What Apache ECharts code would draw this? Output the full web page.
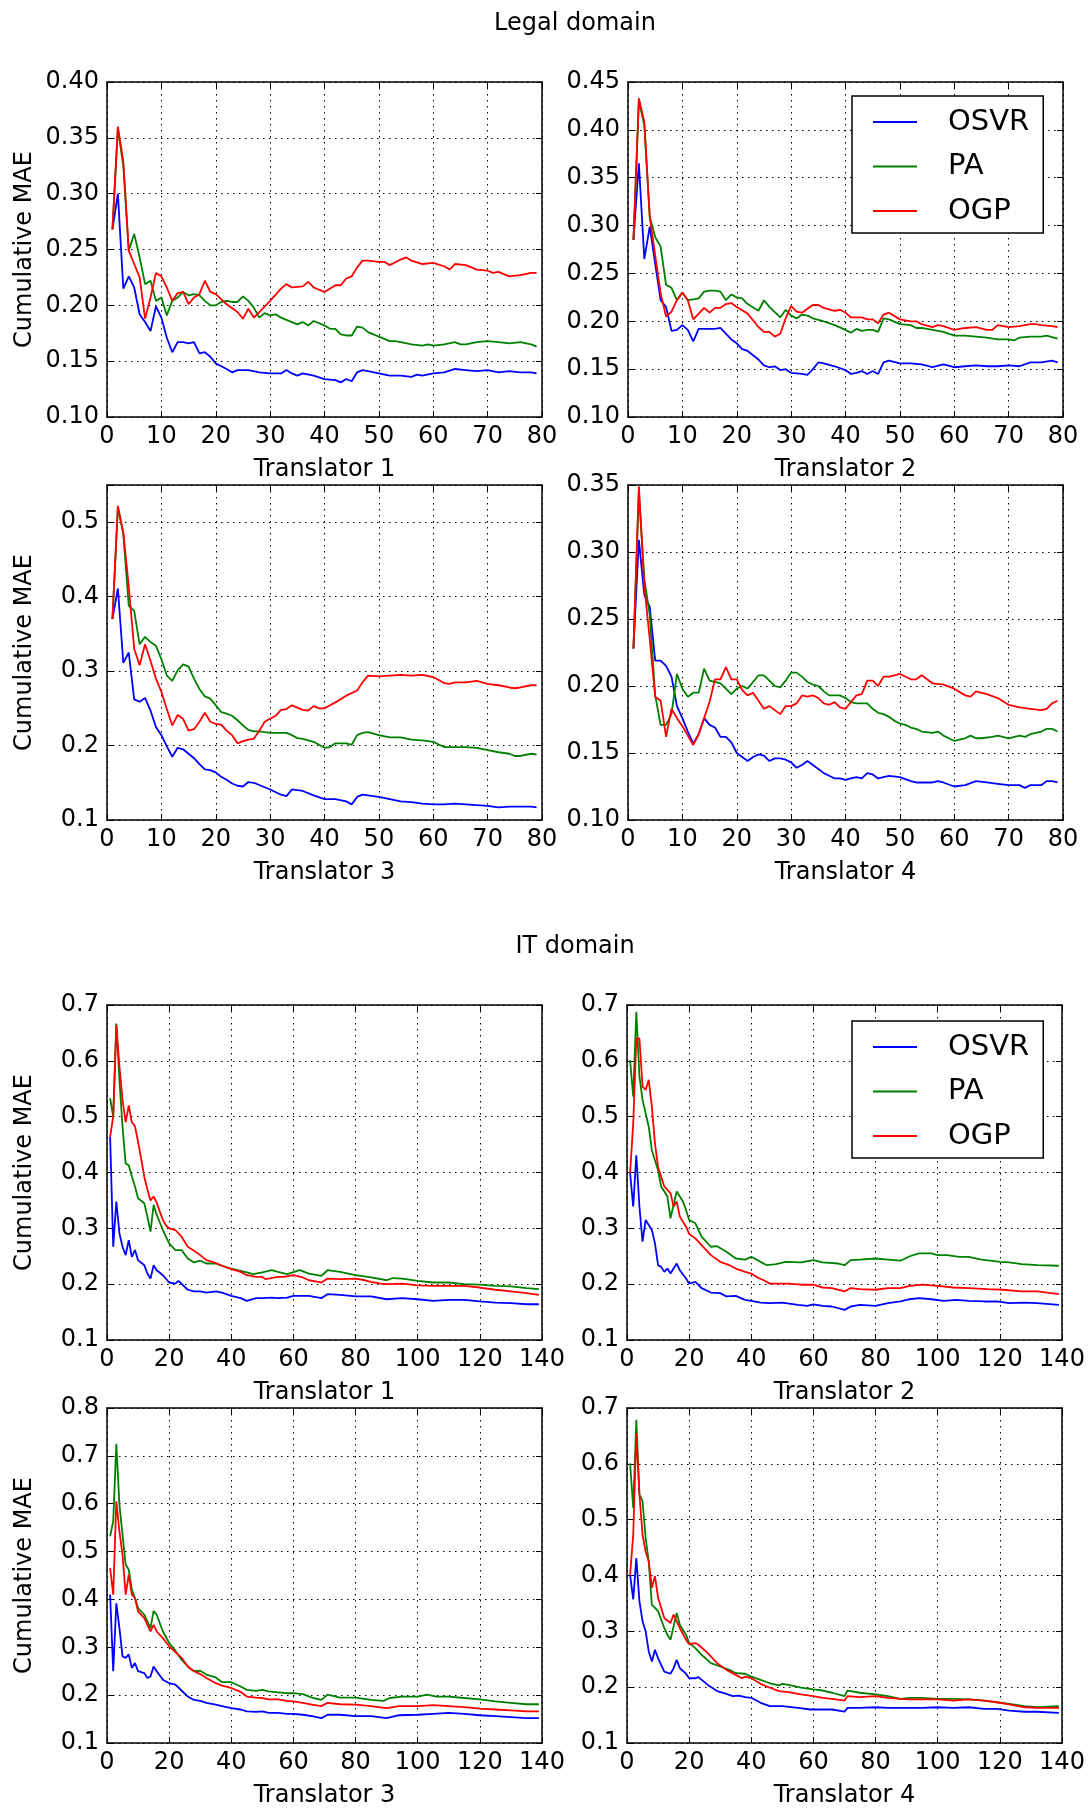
<!DOCTYPE html>
<html><head><meta charset="utf-8">
<script src="https://cdn.jsdelivr.net/npm/echarts@6/dist/echarts.min.js"></script>
<style>html,body{margin:0;padding:0;background:#fff}#c{width:1092px;height:1809px}</style>
</head><body><div id="c"></div>
<script>
// ---------- Legal domain ----------
const legalT1_OSVR = [[1,0.268],[2,0.300],[3,0.215],[4,0.226],[5,0.216],[6,0.192],[7,0.185],[8,0.177],[9,0.199],[10,0.189],[11,0.171],[12,0.158],[13,0.167],[14,0.167],[15,0.166],[16,0.167],[17,0.157],[18,0.158],[19,0.154],[20,0.148],[22,0.143],[23,0.140],[24,0.142],[26,0.142],[28,0.140],[30,0.139],[32,0.139],[33,0.142],[34,0.139],[35,0.137],[36,0.139],[38,0.137],[40,0.134],[42,0.133],[43,0.131],[44,0.134],[45,0.132],[46,0.140],[47,0.142],[48,0.141],[50,0.139],[52,0.137],[54,0.137],[56,0.136],[57,0.138],[58,0.137],[60,0.139],[62,0.140],[64,0.143],[66,0.142],[68,0.141],[70,0.142],[72,0.140],[74,0.141],[76,0.140],[78,0.140],[79,0.139]];
const legalT1_PA = [[1,0.268],[2,0.358],[3,0.325],[4,0.249],[5,0.264],[6,0.243],[7,0.219],[8,0.222],[9,0.204],[10,0.207],[11,0.191],[12,0.204],[13,0.207],[14,0.212],[15,0.209],[16,0.210],[17,0.209],[18,0.204],[19,0.200],[20,0.200],[21,0.203],[22,0.204],[23,0.203],[24,0.203],[25,0.208],[26,0.204],[27,0.198],[28,0.189],[29,0.193],[30,0.191],[31,0.192],[32,0.189],[34,0.185],[35,0.183],[36,0.185],[37,0.182],[38,0.186],[40,0.182],[41,0.179],[42,0.179],[43,0.174],[44,0.173],[45,0.173],[46,0.181],[47,0.180],[48,0.176],[50,0.172],[52,0.168],[53,0.168],[54,0.167],[56,0.165],[58,0.164],[59,0.165],[60,0.164],[62,0.165],[64,0.167],[65,0.165],[66,0.165],[68,0.167],[70,0.168],[72,0.167],[74,0.166],[76,0.167],[78,0.165],[79,0.163]];
const legalT1_OGP = [[1,0.268],[2,0.360],[3,0.329],[4,0.249],[5,0.237],[6,0.225],[7,0.188],[8,0.207],[9,0.229],[10,0.226],[11,0.216],[12,0.204],[13,0.211],[14,0.212],[15,0.201],[16,0.207],[17,0.210],[18,0.222],[19,0.212],[20,0.210],[22,0.201],[24,0.194],[25,0.188],[26,0.197],[27,0.189],[28,0.194],[30,0.204],[32,0.215],[33,0.219],[34,0.216],[36,0.217],[37,0.221],[38,0.216],[40,0.212],[42,0.218],[43,0.218],[44,0.224],[45,0.226],[46,0.234],[47,0.240],[48,0.240],[50,0.239],[51,0.239],[52,0.236],[54,0.241],[55,0.243],[56,0.240],[58,0.237],[60,0.238],[62,0.235],[63,0.232],[64,0.237],[66,0.236],[68,0.232],[70,0.231],[71,0.229],[72,0.230],[74,0.226],[76,0.227],[78,0.229],[79,0.229]];

const legalT2_OSVR = [[1,0.285],[2,0.365],[3,0.265],[4,0.299],[5,0.260],[6,0.222],[7,0.215],[8,0.190],[9,0.191],[10,0.196],[11,0.191],[12,0.179],[13,0.192],[14,0.192],[16,0.192],[17,0.193],[18,0.187],[19,0.181],[20,0.177],[21,0.171],[22,0.169],[24,0.160],[25,0.154],[26,0.152],[27,0.153],[28,0.149],[29,0.150],[30,0.146],[32,0.145],[33,0.144],[34,0.150],[35,0.157],[36,0.156],[38,0.153],[40,0.149],[41,0.145],[42,0.146],[43,0.148],[44,0.145],[45,0.148],[46,0.145],[47,0.157],[48,0.159],[50,0.156],[52,0.156],[54,0.155],[56,0.152],[58,0.155],[60,0.152],[62,0.153],[64,0.154],[66,0.153],[68,0.153],[70,0.154],[72,0.153],[74,0.157],[76,0.157],[78,0.159],[79,0.157]];
const legalT2_PA = [[1,0.285],[2,0.430],[3,0.405],[4,0.309],[5,0.288],[6,0.278],[7,0.238],[8,0.235],[9,0.222],[10,0.230],[11,0.222],[12,0.223],[13,0.224],[14,0.231],[15,0.232],[16,0.232],[17,0.231],[18,0.222],[19,0.228],[20,0.225],[21,0.224],[22,0.218],[24,0.211],[25,0.222],[26,0.215],[28,0.204],[29,0.212],[30,0.206],[31,0.203],[32,0.207],[33,0.206],[34,0.203],[36,0.200],[38,0.196],[40,0.191],[41,0.188],[42,0.192],[43,0.190],[44,0.191],[45,0.191],[46,0.189],[47,0.203],[48,0.202],[50,0.197],[52,0.196],[53,0.193],[54,0.193],[56,0.191],[58,0.189],[60,0.185],[62,0.185],[64,0.184],[66,0.183],[68,0.181],[70,0.181],[71,0.180],[72,0.183],[74,0.184],[76,0.184],[77,0.185],[79,0.182]];
const legalT2_OGP = [[1,0.285],[2,0.433],[3,0.408],[4,0.309],[5,0.269],[6,0.229],[7,0.205],[8,0.210],[9,0.222],[10,0.230],[11,0.222],[12,0.202],[13,0.208],[14,0.214],[15,0.209],[16,0.214],[17,0.214],[18,0.218],[19,0.219],[20,0.215],[22,0.208],[24,0.194],[25,0.189],[26,0.189],[27,0.184],[28,0.187],[29,0.203],[30,0.216],[31,0.210],[32,0.209],[33,0.213],[34,0.217],[35,0.217],[36,0.214],[38,0.211],[39,0.212],[40,0.209],[41,0.204],[42,0.204],[43,0.204],[44,0.202],[45,0.202],[46,0.198],[47,0.207],[48,0.209],[50,0.202],[52,0.200],[53,0.200],[54,0.197],[56,0.194],[57,0.196],[58,0.195],[60,0.191],[62,0.193],[64,0.194],[66,0.191],[67,0.191],[68,0.196],[70,0.194],[72,0.195],[74,0.197],[75,0.197],[76,0.196],[78,0.195],[79,0.194]];

const legalT3_OSVR = [[1,0.370],[2,0.411],[3,0.311],[4,0.325],[5,0.262],[6,0.259],[7,0.264],[8,0.247],[9,0.225],[10,0.214],[11,0.199],[12,0.185],[13,0.197],[14,0.195],[15,0.189],[16,0.183],[17,0.175],[18,0.168],[19,0.167],[20,0.164],[21,0.158],[22,0.154],[23,0.149],[24,0.146],[25,0.145],[26,0.151],[27,0.150],[28,0.147],[30,0.141],[32,0.134],[33,0.132],[34,0.141],[35,0.140],[36,0.139],[38,0.133],[40,0.128],[42,0.128],[44,0.125],[45,0.121],[46,0.131],[47,0.134],[48,0.133],[50,0.131],[52,0.128],[54,0.125],[56,0.124],[58,0.122],[60,0.121],[62,0.121],[64,0.122],[66,0.121],[68,0.120],[70,0.119],[72,0.117],[74,0.118],[76,0.118],[78,0.118],[79,0.117]];
const legalT3_PA = [[1,0.370],[2,0.520],[3,0.484],[4,0.388],[5,0.381],[6,0.336],[7,0.346],[8,0.339],[9,0.334],[10,0.316],[11,0.294],[12,0.287],[13,0.301],[14,0.309],[15,0.306],[16,0.290],[17,0.276],[18,0.266],[19,0.263],[20,0.254],[21,0.245],[22,0.243],[23,0.240],[24,0.234],[25,0.227],[26,0.221],[27,0.219],[28,0.219],[30,0.217],[32,0.217],[33,0.217],[34,0.214],[35,0.210],[36,0.209],[38,0.205],[40,0.197],[41,0.198],[42,0.203],[44,0.203],[45,0.201],[46,0.214],[47,0.217],[48,0.218],[50,0.214],[52,0.211],[54,0.211],[56,0.208],[58,0.207],[60,0.205],[62,0.198],[64,0.198],[66,0.198],[68,0.197],[70,0.194],[72,0.191],[74,0.189],[75,0.186],[76,0.186],[78,0.189],[79,0.188]];
const legalT3_OGP = [[1,0.370],[2,0.522],[3,0.486],[4,0.414],[5,0.330],[6,0.308],[7,0.336],[8,0.314],[9,0.290],[10,0.272],[11,0.249],[12,0.227],[13,0.241],[14,0.236],[15,0.220],[16,0.222],[17,0.232],[18,0.244],[19,0.232],[20,0.229],[21,0.228],[22,0.220],[23,0.214],[24,0.203],[25,0.206],[26,0.208],[27,0.209],[28,0.220],[29,0.232],[30,0.236],[31,0.240],[32,0.248],[33,0.249],[34,0.254],[35,0.251],[36,0.248],[37,0.247],[38,0.253],[39,0.250],[40,0.250],[42,0.258],[44,0.267],[46,0.274],[47,0.285],[48,0.294],[50,0.293],[52,0.294],[54,0.295],[56,0.294],[58,0.295],[60,0.292],[62,0.284],[63,0.283],[64,0.285],[66,0.285],[68,0.287],[70,0.283],[72,0.281],[74,0.278],[75,0.277],[76,0.278],[78,0.281],[79,0.281]];

const legalT4_OSVR = [[1,0.228],[2,0.309],[3,0.268],[4,0.259],[5,0.219],[6,0.219],[7,0.215],[8,0.207],[9,0.185],[10,0.176],[11,0.166],[12,0.157],[13,0.164],[14,0.176],[15,0.171],[16,0.169],[17,0.162],[18,0.162],[19,0.158],[20,0.150],[21,0.147],[22,0.144],[23,0.147],[24,0.149],[25,0.148],[26,0.144],[27,0.146],[28,0.146],[29,0.145],[30,0.143],[31,0.139],[32,0.141],[33,0.144],[34,0.141],[35,0.138],[36,0.135],[37,0.133],[38,0.131],[39,0.131],[40,0.130],[41,0.131],[42,0.132],[43,0.131],[44,0.135],[45,0.134],[46,0.131],[47,0.132],[48,0.133],[50,0.132],[52,0.129],[53,0.128],[54,0.128],[56,0.128],[57,0.129],[58,0.128],[60,0.125],[62,0.126],[64,0.129],[66,0.128],[68,0.127],[70,0.126],[72,0.126],[73,0.124],[74,0.126],[76,0.126],[77,0.129],[78,0.129],[79,0.128]];
const legalT4_PA = [[1,0.228],[2,0.345],[3,0.280],[4,0.253],[5,0.193],[6,0.171],[7,0.171],[8,0.179],[9,0.209],[10,0.198],[11,0.192],[12,0.195],[13,0.195],[14,0.213],[15,0.204],[16,0.203],[17,0.202],[18,0.198],[19,0.194],[20,0.198],[21,0.200],[22,0.198],[23,0.203],[24,0.208],[25,0.208],[26,0.204],[27,0.200],[28,0.199],[29,0.204],[30,0.210],[31,0.210],[32,0.207],[33,0.203],[34,0.201],[35,0.200],[36,0.196],[37,0.193],[38,0.193],[39,0.193],[40,0.191],[41,0.188],[42,0.187],[44,0.187],[45,0.183],[46,0.180],[47,0.179],[48,0.177],[49,0.174],[50,0.172],[51,0.171],[52,0.169],[53,0.168],[54,0.166],[56,0.165],[57,0.166],[58,0.163],[59,0.161],[60,0.159],[61,0.160],[62,0.161],[63,0.163],[64,0.161],[65,0.161],[67,0.162],[68,0.163],[70,0.161],[72,0.163],[73,0.162],[74,0.164],[75,0.165],[76,0.166],[77,0.168],[78,0.168],[79,0.166]];
const legalT4_OGP = [[1,0.228],[2,0.349],[3,0.275],[4,0.235],[5,0.192],[6,0.189],[7,0.162],[8,0.183],[9,0.176],[10,0.170],[11,0.163],[12,0.156],[13,0.164],[14,0.176],[15,0.188],[16,0.205],[17,0.205],[18,0.214],[19,0.205],[20,0.205],[21,0.197],[22,0.193],[23,0.195],[24,0.189],[25,0.183],[26,0.185],[27,0.182],[28,0.179],[29,0.185],[30,0.185],[31,0.187],[32,0.193],[33,0.192],[34,0.193],[35,0.191],[36,0.187],[37,0.186],[38,0.188],[39,0.184],[40,0.183],[41,0.188],[42,0.193],[43,0.194],[44,0.204],[45,0.204],[46,0.200],[47,0.207],[48,0.207],[49,0.208],[50,0.209],[52,0.205],[53,0.205],[54,0.208],[56,0.202],[58,0.201],[60,0.198],[62,0.193],[63,0.192],[64,0.196],[66,0.194],[68,0.191],[70,0.186],[72,0.184],[74,0.183],[76,0.182],[77,0.183],[78,0.187],[79,0.189]];

// ---------- IT domain ----------
const itT1_OSVR = [[1,0.464],[2,0.267],[3,0.348],[4,0.291],[5,0.267],[6,0.252],[7,0.279],[8,0.249],[9,0.261],[10,0.243],[12,0.234],[13,0.219],[14,0.210],[15,0.234],[16,0.225],[18,0.216],[20,0.203],[22,0.201],[23,0.206],[26,0.190],[28,0.187],[30,0.187],[32,0.185],[35,0.187],[37,0.185],[40,0.179],[43,0.175],[45,0.170],[48,0.175],[50,0.175],[53,0.176],[55,0.175],[58,0.176],[60,0.179],[65,0.179],[69,0.175],[71,0.182],[75,0.181],[80,0.178],[85,0.178],[90,0.173],[95,0.175],[100,0.173],[105,0.170],[110,0.172],[115,0.172],[120,0.169],[125,0.167],[130,0.166],[135,0.164],[139,0.164]];
const itT1_PA = [[1,0.533],[2,0.500],[3,0.667],[4,0.566],[5,0.482],[6,0.416],[7,0.413],[8,0.393],[9,0.375],[10,0.354],[12,0.345],[13,0.321],[14,0.294],[15,0.342],[16,0.324],[18,0.297],[20,0.273],[22,0.261],[24,0.261],[26,0.246],[28,0.239],[30,0.242],[32,0.237],[35,0.237],[37,0.233],[40,0.228],[43,0.224],[45,0.221],[47,0.218],[50,0.221],[53,0.225],[55,0.222],[58,0.218],[62,0.225],[65,0.219],[69,0.215],[71,0.225],[75,0.222],[80,0.216],[85,0.212],[90,0.207],[92,0.211],[95,0.210],[100,0.206],[105,0.203],[110,0.203],[115,0.200],[120,0.199],[125,0.197],[130,0.196],[135,0.193],[139,0.191]];
const itT1_OGP = [[1,0.464],[2,0.500],[3,0.664],[4,0.590],[5,0.530],[6,0.490],[7,0.520],[8,0.490],[9,0.483],[10,0.455],[11,0.425],[12,0.392],[13,0.370],[14,0.350],[15,0.357],[16,0.346],[17,0.330],[18,0.315],[19,0.305],[20,0.300],[22,0.297],[24,0.285],[26,0.267],[28,0.260],[30,0.252],[32,0.243],[35,0.238],[37,0.233],[40,0.227],[43,0.222],[45,0.216],[48,0.213],[50,0.213],[51,0.209],[55,0.213],[57,0.213],[60,0.216],[63,0.212],[65,0.207],[68,0.204],[69,0.203],[71,0.210],[75,0.209],[80,0.210],[83,0.207],[85,0.204],[88,0.201],[90,0.200],[95,0.201],[100,0.198],[105,0.197],[110,0.197],[115,0.197],[120,0.194],[125,0.190],[130,0.187],[135,0.184],[139,0.181]];

const itT2_OSVR = [[1,0.399],[2,0.339],[3,0.431],[4,0.339],[5,0.276],[6,0.315],[8,0.297],[9,0.273],[10,0.234],[11,0.231],[12,0.222],[13,0.228],[14,0.219],[16,0.237],[17,0.225],[19,0.210],[20,0.201],[22,0.204],[24,0.193],[27,0.185],[30,0.184],[32,0.178],[35,0.179],[38,0.172],[40,0.170],[43,0.167],[46,0.166],[50,0.167],[55,0.163],[58,0.161],[60,0.164],[63,0.161],[66,0.160],[70,0.154],[72,0.160],[75,0.163],[80,0.161],[84,0.166],[88,0.169],[91,0.173],[94,0.175],[98,0.173],[102,0.170],[106,0.172],[110,0.170],[115,0.169],[119,0.169],[123,0.166],[128,0.167],[132,0.166],[139,0.163]];
const itT2_PA = [[1,0.601],[2,0.536],[3,0.688],[4,0.572],[5,0.530],[7,0.482],[8,0.440],[10,0.404],[11,0.375],[13,0.357],[14,0.318],[16,0.366],[18,0.348],[19,0.333],[20,0.315],[22,0.309],[24,0.285],[27,0.267],[29,0.268],[32,0.258],[35,0.246],[38,0.244],[40,0.249],[43,0.240],[45,0.234],[48,0.236],[51,0.240],[56,0.239],[60,0.243],[63,0.239],[68,0.237],[70,0.234],[72,0.243],[75,0.244],[80,0.246],[84,0.244],[88,0.242],[91,0.250],[94,0.255],[98,0.255],[100,0.252],[103,0.252],[107,0.249],[110,0.249],[114,0.244],[117,0.242],[120,0.240],[123,0.239],[127,0.236],[132,0.234],[139,0.233]];
const itT2_OGP = [[1,0.399],[2,0.488],[3,0.640],[4,0.640],[5,0.554],[6,0.548],[7,0.566],[8,0.518],[9,0.452],[10,0.410],[12,0.375],[14,0.363],[15,0.339],[16,0.348],[17,0.321],[19,0.303],[20,0.290],[22,0.282],[24,0.270],[27,0.252],[30,0.240],[33,0.234],[35,0.228],[38,0.222],[40,0.219],[42,0.212],[44,0.207],[46,0.201],[49,0.201],[52,0.201],[56,0.199],[60,0.199],[63,0.194],[66,0.193],[70,0.187],[72,0.193],[75,0.191],[80,0.190],[84,0.193],[88,0.193],[91,0.197],[95,0.199],[100,0.197],[105,0.194],[110,0.193],[116,0.191],[121,0.190],[127,0.187],[132,0.187],[139,0.182]];

const itT3_OSVR = [[1,0.410],[2,0.250],[3,0.392],[4,0.340],[5,0.281],[6,0.278],[7,0.285],[8,0.257],[9,0.267],[10,0.250],[12,0.246],[13,0.236],[14,0.239],[15,0.260],[16,0.250],[18,0.232],[20,0.225],[22,0.222],[23,0.216],[26,0.197],[28,0.190],[30,0.188],[32,0.184],[35,0.180],[37,0.177],[40,0.173],[43,0.170],[45,0.166],[48,0.165],[50,0.166],[52,0.163],[55,0.163],[58,0.161],[60,0.161],[63,0.159],[66,0.156],[69,0.152],[71,0.159],[75,0.159],[80,0.156],[85,0.156],[90,0.152],[94,0.158],[100,0.159],[105,0.161],[110,0.163],[115,0.161],[120,0.158],[125,0.156],[130,0.154],[135,0.152],[139,0.152]];
const itT3_PA = [[1,0.532],[2,0.563],[3,0.725],[4,0.598],[5,0.535],[6,0.473],[7,0.462],[8,0.420],[9,0.403],[10,0.382],[12,0.368],[13,0.354],[14,0.340],[15,0.376],[16,0.368],[18,0.333],[20,0.309],[22,0.293],[24,0.274],[26,0.260],[28,0.250],[30,0.251],[32,0.243],[35,0.237],[37,0.227],[40,0.227],[43,0.218],[45,0.211],[48,0.209],[50,0.211],[52,0.208],[55,0.206],[58,0.204],[60,0.204],[63,0.202],[66,0.195],[69,0.190],[71,0.201],[75,0.195],[80,0.195],[85,0.190],[89,0.188],[91,0.194],[95,0.197],[100,0.197],[103,0.201],[106,0.197],[110,0.197],[115,0.194],[120,0.191],[125,0.187],[130,0.184],[135,0.181],[139,0.181]];
const itT3_OGP = [[1,0.466],[2,0.410],[3,0.605],[4,0.542],[5,0.493],[6,0.410],[7,0.452],[8,0.410],[9,0.403],[10,0.375],[12,0.361],[13,0.347],[14,0.333],[15,0.347],[16,0.333],[18,0.319],[20,0.302],[22,0.290],[24,0.278],[26,0.260],[28,0.250],[30,0.244],[32,0.236],[35,0.225],[37,0.220],[40,0.215],[43,0.207],[45,0.197],[48,0.195],[50,0.194],[52,0.191],[55,0.191],[58,0.188],[60,0.187],[63,0.184],[66,0.180],[69,0.177],[71,0.184],[75,0.181],[80,0.180],[85,0.177],[90,0.173],[94,0.177],[100,0.177],[105,0.179],[110,0.177],[115,0.175],[120,0.172],[125,0.170],[130,0.168],[135,0.166],[139,0.166]];

const itT4_OSVR = [[1,0.401],[2,0.357],[3,0.431],[4,0.354],[5,0.318],[6,0.300],[7,0.264],[8,0.246],[9,0.267],[10,0.252],[12,0.228],[14,0.224],[15,0.234],[16,0.249],[17,0.234],[19,0.224],[20,0.216],[22,0.216],[23,0.218],[26,0.204],[29,0.193],[32,0.188],[34,0.184],[36,0.185],[38,0.182],[40,0.181],[43,0.172],[46,0.166],[50,0.166],[55,0.163],[59,0.160],[63,0.160],[66,0.160],[70,0.156],[71,0.163],[75,0.163],[80,0.164],[84,0.163],[88,0.163],[91,0.163],[95,0.163],[100,0.164],[105,0.163],[110,0.164],[115,0.161],[119,0.161],[123,0.158],[128,0.156],[132,0.156],[139,0.154]];
const itT4_PA = [[1,0.601],[2,0.521],[3,0.679],[4,0.545],[5,0.533],[6,0.467],[7,0.425],[8,0.348],[10,0.336],[12,0.306],[13,0.294],[14,0.285],[16,0.333],[17,0.312],[19,0.294],[20,0.279],[22,0.270],[24,0.258],[27,0.243],[30,0.237],[33,0.231],[35,0.225],[38,0.224],[40,0.219],[43,0.213],[46,0.207],[49,0.203],[50,0.206],[52,0.204],[56,0.199],[60,0.196],[63,0.194],[66,0.190],[70,0.184],[71,0.194],[75,0.190],[80,0.187],[84,0.184],[88,0.179],[91,0.181],[95,0.181],[100,0.179],[105,0.179],[110,0.178],[115,0.176],[119,0.173],[123,0.170],[128,0.166],[132,0.164],[139,0.166]];
const itT4_OGP = [[1,0.401],[2,0.473],[3,0.655],[4,0.545],[5,0.473],[6,0.443],[7,0.425],[8,0.378],[9,0.399],[10,0.360],[12,0.324],[14,0.315],[15,0.330],[16,0.318],[17,0.306],[19,0.285],[20,0.277],[22,0.279],[23,0.276],[26,0.261],[29,0.243],[32,0.231],[35,0.222],[37,0.216],[38,0.219],[40,0.216],[43,0.206],[46,0.199],[49,0.193],[52,0.191],[56,0.187],[60,0.184],[63,0.181],[66,0.179],[70,0.176],[71,0.184],[75,0.182],[80,0.184],[84,0.181],[88,0.179],[91,0.178],[95,0.178],[100,0.178],[105,0.176],[110,0.178],[115,0.176],[119,0.173],[123,0.169],[128,0.164],[132,0.163],[139,0.163]];

// ---------- labels ----------
const seriesNames = ['OSVR', 'PA', 'OGP'];
const seriesColors = ['#0000ff', '#008000', '#ff0000'];
const sectionTitles = ['Legal domain', 'IT domain'];
const translatorLabels = ['Translator 1', 'Translator 2', 'Translator 3', 'Translator 4'];
const yAxisTitle = 'Cumulative MAE';

const FONT = 'DejaVu Sans';
const W = 435, H = 335;
const panels = [
  {left:107, top:82,   xMax:80,  xInt:10, yMin:0.1, yMax:0.40, yInt:0.05, dec:2, name:translatorLabels[0], yName:true,  data:[legalT1_OSVR, legalT1_PA, legalT1_OGP]},
  {left:628, top:82,   xMax:80,  xInt:10, yMin:0.1, yMax:0.45, yInt:0.05, dec:2, name:translatorLabels[1], yName:false, data:[legalT2_OSVR, legalT2_PA, legalT2_OGP]},
  {left:107, top:485,  xMax:80,  xInt:10, yMin:0.1, yMax:0.55, yInt:0.1,  dec:1, name:translatorLabels[2], yName:true,  data:[legalT3_OSVR, legalT3_PA, legalT3_OGP]},
  {left:628, top:485,  xMax:80,  xInt:10, yMin:0.1, yMax:0.35, yInt:0.05, dec:2, name:translatorLabels[3], yName:false, data:[legalT4_OSVR, legalT4_PA, legalT4_OGP]},
  {left:107, top:1005, xMax:140, xInt:20, yMin:0.1, yMax:0.7,  yInt:0.1,  dec:1, name:translatorLabels[0], yName:true,  data:[itT1_OSVR, itT1_PA, itT1_OGP]},
  {left:627, top:1005, xMax:140, xInt:20, yMin:0.1, yMax:0.7,  yInt:0.1,  dec:1, name:translatorLabels[1], yName:false, data:[itT2_OSVR, itT2_PA, itT2_OGP]},
  {left:107, top:1408, xMax:140, xInt:20, yMin:0.1, yMax:0.8,  yInt:0.1,  dec:1, name:translatorLabels[2], yName:true,  data:[itT3_OSVR, itT3_PA, itT3_OGP]},
  {left:627, top:1408, xMax:140, xInt:20, yMin:0.1, yMax:0.7,  yInt:0.1,  dec:1, name:translatorLabels[3], yName:false, data:[itT4_OSVR, itT4_PA, itT4_OGP]}
];

const frame = {show:true, onZero:false, lineStyle:{color:'#000', width:1.5}};
const tick = {show:true, inside:true, length:6, lineStyle:{color:'#000', width:1}};
const grid = [], xAxis = [], yAxis = [], series = [];
panels.forEach((p, i) => {
  grid.push({left:p.left, top:p.top, width:W, height:H, containLabel:false});
  xAxis.push({
    type:'value', gridIndex:i, position:'bottom', min:0, max:p.xMax, interval:p.xInt,
    axisLine:frame, axisTick:tick,
    axisLabel:{color:'#000', fontSize:24, fontFamily:FONT, margin:8},
    splitLine:{show:true, lineStyle:{color:'#000', width:1, type:[1.5,4.5]}},
    name:p.name, nameLocation:'middle', nameGap:41,
    nameTextStyle:{color:'#000', fontSize:24, fontFamily:FONT}
  });
  xAxis.push({
    type:'value', gridIndex:i, position:'top', min:0, max:p.xMax, interval:p.xInt,
    axisLine:frame, axisTick:tick, axisLabel:{show:false}, splitLine:{show:false}
  });
  const yi = p.yInt, dec = p.dec;
  yAxis.push({
    type:'value', gridIndex:i, position:'left', min:p.yMin, max:p.yMax, interval:p.yInt,
    axisLine:frame, axisTick:tick,
    axisLabel:{color:'#000', fontSize:24, fontFamily:FONT, margin:8,
      formatter:v => (Math.abs(v / yi - Math.round(v / yi)) > 1e-6) ? '' : v.toFixed(dec)},
    splitLine:{show:true, lineStyle:{color:'#000', width:1, type:[1.5,4.5]}},
    name:p.yName ? yAxisTitle : '', nameLocation:'middle', nameGap:70,
    nameTextStyle:{color:'#000', fontSize:24, fontFamily:FONT}
  });
  yAxis.push({
    type:'value', gridIndex:i, position:'right', min:p.yMin, max:p.yMax, interval:p.yInt,
    axisLine:frame, axisTick:tick, axisLabel:{show:false}, splitLine:{show:false}
  });
  p.data.forEach((d, k) => {
    series.push({
      type:'line', name:seriesNames[k], xAxisIndex:2*i, yAxisIndex:2*i, data:d,
      symbol:'none', showSymbol:false, clip:true,
      lineStyle:{color:seriesColors[k], width:1.8}, itemStyle:{color:seriesColors[k]},
      z:2+k
    });
  });
});

const legendBase = {
  orient:'vertical', data:seriesNames, icon:'rect', itemWidth:44, itemHeight:2, itemGap:14.5,
  padding:[11,14,7,21], borderColor:'#000', borderWidth:1.5, backgroundColor:'#fff',
  selectedMode:false,
  textStyle:{color:'#000', fontSize:29, fontFamily:FONT, lineHeight:30, padding:[0,0,0,26]}
};

const option = {
  animation:false,
  backgroundColor:'#fff',
  title:[
    {text:sectionTitles[0], left:570, top:7, textAlign:'center', textStyle:{color:'#000', fontSize:24, fontWeight:'normal', fontFamily:FONT}},
    {text:sectionTitles[1], left:570, top:930, textAlign:'center', textStyle:{color:'#000', fontSize:24, fontWeight:'normal', fontFamily:FONT}}
  ],
  legend:[
    Object.assign({}, legendBase, {left:852, top:96}),
    Object.assign({}, legendBase, {left:852, top:1021})
  ],
  grid, xAxis, yAxis, series
};

const chart = echarts.init(document.getElementById('c'), null, {renderer:'canvas'});
chart.setOption(option);
</script>
</body></html>
